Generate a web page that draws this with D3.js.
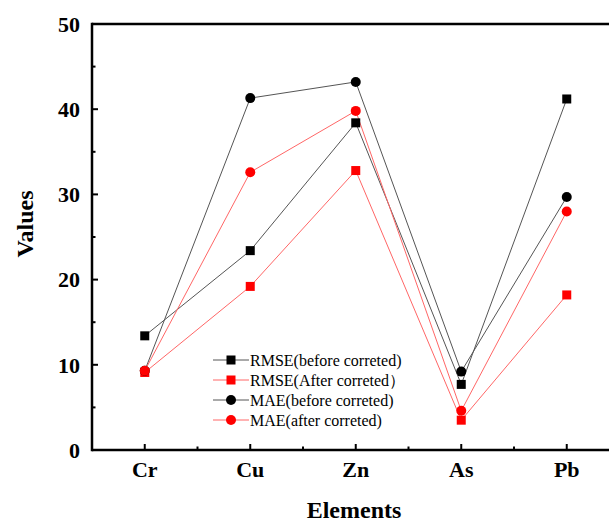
<!DOCTYPE html>
<head>
  <meta charset="utf-8">
  <script src="https://d3js.org/d3.v7.min.js"></script>
  <style>
    body { margin:0; background:#fff; }
    text { font-family: 'Liberation Serif', 'Times New Roman', serif; }
    .tick-label { font-size: 22px; font-weight: 700; fill: #000; }
    .axis-title { font-size: 24px; font-weight: 700; fill: #000; }
    .legend-text { font-size: 16px; fill: #000; }
    .axis-line { stroke: #000; stroke-width: 2.5; fill: none; }
  </style>
</head>
<body>
  <script>
    var elements = ["Cr", "Cu", "Zn", "As", "Pb"];
    var rmseBefore = [13.4, 23.4, 38.4, 7.7, 41.2];
    var rmseAfter  = [9.1, 19.2, 32.8, 3.5, 18.2];
    var maeBefore  = [9.3, 41.3, 43.2, 9.2, 29.7];
    var maeAfter   = [9.3, 32.6, 39.8, 4.6, 28.0];
    var yTicks = [0, 10, 20, 30, 40, 50];

    var series = [
      {name: "RMSE(before correted)", values: rmseBefore, colour: "#000", line: "#555", shape: "square"},
      {name: "RMSE(After correted\uFF09", values: rmseAfter, colour: "#f00", line: "#f66", shape: "square"},
      {name: "MAE(before correted)", values: maeBefore, colour: "#000", line: "#555", shape: "circle"},
      {name: "MAE(after correted)", values: maeAfter, colour: "#f00", line: "#f66", shape: "circle"}
    ];

    var W = 609, H = 522;
    var plotLeft = 92, plotTop = 24, plotBottom = 450;

    var svg = d3.select("body").append("svg")
      .attr("width", W)
      .attr("height", H);

    // categories sit at 1..5, plot runs from 0.5 to 5.5 (right edge cut by the window)
    var x = d3.scaleLinear().domain([0.5, 5.5]).range([plotLeft, plotLeft + 5 * 105.5]);
    var y = d3.scaleLinear().domain([0, 50]).range([plotBottom, plotTop]);

    // frame
    svg.append("line").attr("class", "axis-line")
      .attr("x1", plotLeft).attr("x2", W + 10).attr("y1", y(50)).attr("y2", y(50));
    svg.append("line").attr("class", "axis-line")
      .attr("x1", plotLeft).attr("x2", W + 10).attr("y1", y(0)).attr("y2", y(0));
    svg.append("line").attr("class", "axis-line")
      .attr("x1", plotLeft).attr("x2", plotLeft).attr("y1", y(0) + 1.25).attr("y2", y(50) - 1.25);

    // y ticks (inward)
    svg.append("g").selectAll("line")
      .data(d3.range(0, 51, 5))
      .enter().append("line")
        .attr("x1", plotLeft)
        .attr("x2", d => plotLeft + (d % 10 === 0 ? 6 : 3.5))
        .attr("y1", d => y(d))
        .attr("y2", d => y(d))
        .style("stroke", "#000")
        .style("stroke-width", 2);

    svg.append("g").selectAll("text")
      .data(yTicks)
      .enter().append("text")
        .attr("class", "tick-label")
        .attr("x", plotLeft - 12)
        .attr("y", d => y(d))
        .attr("dy", "0.35em")
        .attr("text-anchor", "end")
        .text(d => d);

    // x ticks (inward)
    svg.append("g").selectAll("line")
      .data(d3.range(1, 5.6, 0.5))
      .enter().append("line")
        .attr("x1", d => x(d))
        .attr("x2", d => x(d))
        .attr("y1", plotBottom)
        .attr("y2", d => plotBottom - (d % 1 === 0 ? 6 : 3.5))
        .style("stroke", "#000")
        .style("stroke-width", 2);

    svg.append("g").selectAll("text")
      .data(elements)
      .enter().append("text")
        .attr("class", "tick-label")
        .attr("x", (d, i) => x(i + 1))
        .attr("y", 477)
        .attr("text-anchor", "middle")
        .text(d => d);

    svg.append("text")
      .attr("class", "axis-title")
      .attr("x", 354)
      .attr("y", 518)
      .attr("text-anchor", "middle")
      .text("Elements");

    svg.append("text")
      .attr("class", "axis-title")
      .attr("text-anchor", "middle")
      .attr("transform", "translate(33,224) rotate(-90)")
      .text("Values");

    var line = d3.line()
      .x((d, i) => x(i + 1))
      .y(d => y(d));

    // lines first, markers on top
    svg.append("g").selectAll("path")
      .data(series)
      .enter().append("path")
        .attr("d", d => line(d.values))
        .style("fill", "none")
        .style("stroke", d => d.line)
        .style("stroke-width", 1);

    function drawMarker(g, shape, colour, cx, cy) {
      if (shape === "square") {
        g.append("rect")
          .attr("x", cx - 4.5).attr("y", cy - 4.5)
          .attr("width", 9).attr("height", 9)
          .style("fill", colour);
      } else {
        g.append("circle")
          .attr("cx", cx).attr("cy", cy).attr("r", 5)
          .style("fill", colour);
      }
    }

    var markers = svg.append("g");
    series.forEach(s => {
      s.values.forEach((v, i) => drawMarker(markers, s.shape, s.colour, x(i + 1), y(v)));
    });

    // legend
    var legend = svg.append("g");
    series.forEach((s, i) => {
      var ly = 360 + i * 20;
      legend.append("line")
        .attr("x1", 213).attr("x2", 249)
        .attr("y1", ly).attr("y2", ly)
        .style("stroke", s.line)
        .style("stroke-width", 1);
      drawMarker(legend, s.shape, s.colour, 231, ly);
      legend.append("text")
        .attr("class", "legend-text")
        .attr("x", 250)
        .attr("y", ly)
        .attr("dy", "0.35em")
        .text(s.name);
    });
  </script>
</body>
